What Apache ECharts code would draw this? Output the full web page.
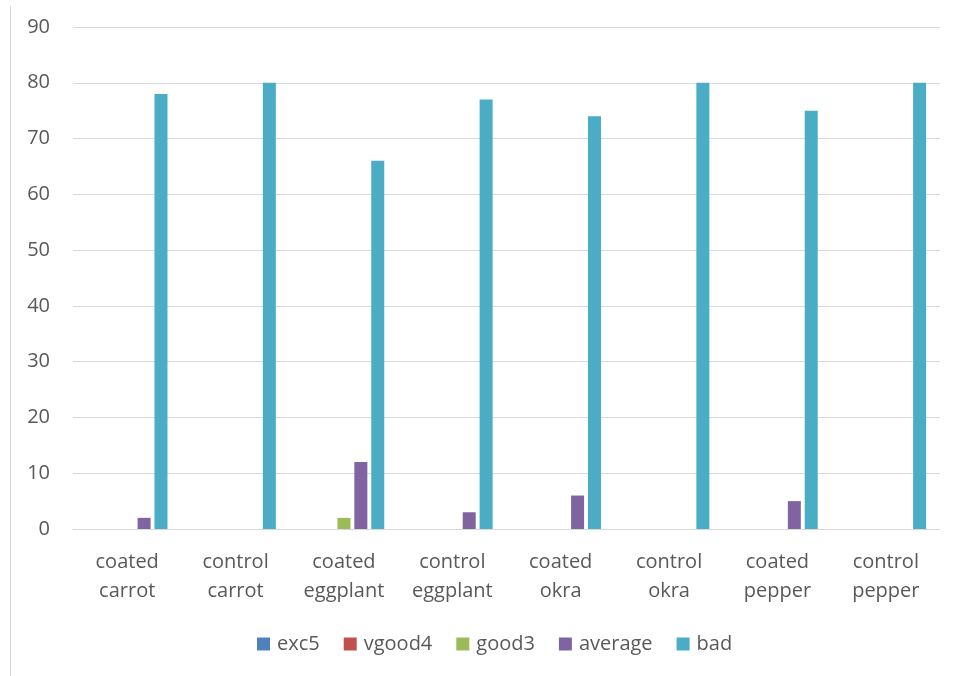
<!DOCTYPE html>
<html>
<head>
<meta charset="utf-8">
<script src="https://cdn.jsdelivr.net/npm/echarts@6/dist/echarts.min.js"></script>
<style>
  html, body { margin: 0; padding: 0; background: #fff; }
  #chart { width: 957px; height: 676px; }
</style>
</head>
<body>
<div id="chart"></div>
<script>
// Ratings of coated vs. control vegetables
const categories = [
  'coated\ncarrot', 'control\ncarrot', 'coated\neggplant', 'control\neggplant',
  'coated\nokra', 'control\nokra', 'coated\npepper', 'control\npepper'
];
const exc5    = [0, 0, 0, 0, 0, 0, 0, 0];
const vgood4  = [0, 0, 0, 0, 0, 0, 0, 0];
const good3   = [0, 0, 2, 0, 0, 0, 0, 0];
const average = [2, 0, 12, 3, 6, 0, 5, 0];
const bad     = [78, 80, 66, 77, 74, 80, 75, 80];
const yTicks  = { min: 0, max: 90, interval: 10 };

const seriesDefs = [
  { name: 'exc5', data: exc5, color: '#4F81BD' },
  { name: 'vgood4', data: vgood4, color: '#C0504D' },
  { name: 'good3', data: good3, color: '#9BBB59' },
  { name: 'average', data: average, color: '#8064A2' },
  { name: 'bad', data: bad, color: '#4BACC6' }
];

const font = '"Open Sans", Lato, sans-serif';
const chart = echarts.init(document.getElementById('chart'), null, { renderer: 'canvas' });

chart.setOption({
  animation: false,
  backgroundColor: '#ffffff',
  textStyle: { fontFamily: font, color: '#595959' },
  graphic: [{
    type: 'line',
    shape: { x1: 10.5, y1: 6, x2: 10.5, y2: 676 },
    style: { stroke: '#D9D9D9', lineWidth: 1 }
  }],
  grid: { left: 73, right: 17, top: 27, bottom: 147, containLabel: false },
  legend: {
    bottom: 17,
    left: 252,
    itemWidth: 13,
    itemHeight: 13,
    itemGap: 24,
    icon: 'rect',
    textStyle: { fontFamily: font, fontSize: 20, color: '#595959', padding: [0, 0, 0, 2] },
    data: seriesDefs.map(s => s.name)
  },
  xAxis: {
    type: 'category',
    data: categories,
    axisLine: { show: true, lineStyle: { color: '#D9D9D9', width: 1 } },
    axisTick: { show: false },
    axisLabel: {
      interval: 0,
      margin: 19,
      fontFamily: font,
      fontSize: 20,
      lineHeight: 29,
      color: '#595959'
    }
  },
  yAxis: {
    type: 'value',
    min: yTicks.min,
    max: yTicks.max,
    interval: yTicks.interval,
    axisLine: { show: false },
    axisTick: { show: false },
    splitLine: { lineStyle: { color: '#D9D9D9', width: 1 } },
    axisLabel: { margin: 23, fontFamily: font, fontSize: 20, color: '#595959' }
  },
  series: seriesDefs.map(s => ({
    name: s.name,
    type: 'bar',
    data: s.data,
    barWidth: 13,
    barGap: '30%',
    itemStyle: { color: s.color }
  }))
});
</script>
</body>
</html>
